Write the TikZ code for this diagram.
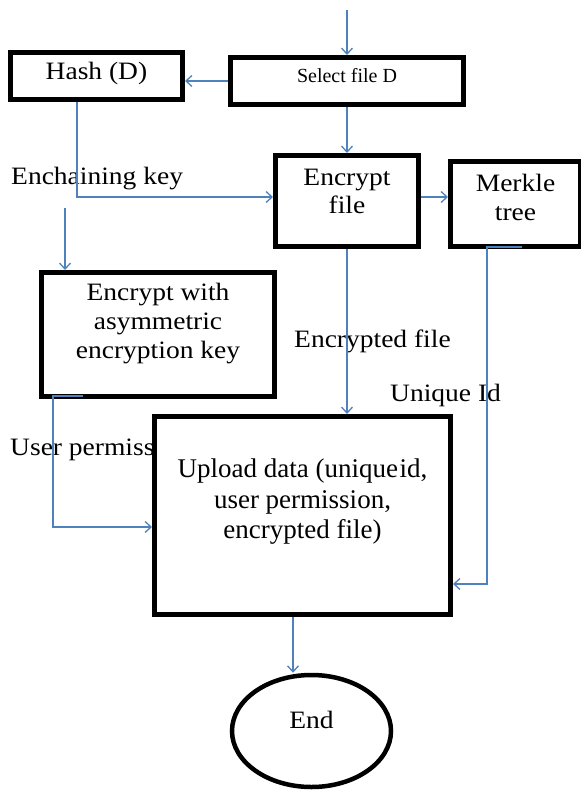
\documentclass[tikz,border=0pt]{standalone}
\usepackage{fontspec}
\setmainfont{Liberation Serif}[FakeStretch=1.1]
\newfontfamily\selfont{Liberation Serif}
\newfontfamily\upfont{Liberation Serif}
\usetikzlibrary{arrows.meta,shapes.geometric,calc}
\definecolor{lnblue}{RGB}{79,129,189}
\begin{document}
\begin{tikzpicture}[x=1pt,y=-1pt,
  box/.style={draw=black,line width=4.8pt,fill=white,rectangle,inner sep=0pt},
  txt/.style={inner sep=0pt,anchor=base,font=\fontsize{25}{29}\selectfont},
  txtl/.style={txt,anchor=base west},
  seltxt/.style={inner sep=0pt,anchor=base,font=\selfont\fontsize{20}{24}\selectfont},
  uptxt/.style={inner sep=0pt,anchor=base,font=\upfont\fontsize{27}{30}\selectfont},
  conn/.style={draw=lnblue,line width=1.5pt,-{Straight Barb[length=6pt,width=11pt,line width=1.3pt]}},
  seg/.style={draw=lnblue,line width=1.5pt}]
\useasboundingbox (0,0) rectangle (580,791);

% free labels (behind boxes and lines)
\node[txtl] (lkey) at (11,185) {Enchaining key};
\node[txtl] (lperm) at (10,455) {User permiss};
\node[txtl] (lencf) at (294,347) {Encrypted file};
\node[txtl] (luid) at (390,401) {Unique Id};

% boxes
\node[box,minimum width=172.2pt,minimum height=47.2pt] (hash) at (96.5,76) {};
\node[box,minimum width=233.2pt,minimum height=47.2pt] (sel) at (347,81) {};
\node[box,minimum width=143.2pt,minimum height=91.2pt] (enc) at (347,201) {};
\node[box,minimum width=130.2pt,minimum height=85.2pt] (mer) at (515.5,204) {};
\node[box,minimum width=233.2pt,minimum height=124.2pt] (asym) at (158,334.5) {};
\node[box,minimum width=296.2pt,minimum height=198.2pt] (up) at (302.5,515.5) {};
\node[draw=black,line width=4.5pt,fill=white,ellipse,inner sep=0pt,
      minimum width=159pt,minimum height=112pt] (endn) at (311.5,731) {};

% box texts
\node[txt] (thash) at (96.5,80) {Hash (D)};
\node[seltxt] (tsel) at (347,83) {Select file D};
\node[txt] (tenc1) at (347,186) {Encrypt};
\node[txt] (tenc2) at (347,214) {file};
\node[txt] (tmer1) at (515.5,192) {Merkle};
\node[txt] (tmer2) at (515.5,221) {tree};
\node[txt] (tas1) at (158,300) {Encrypt with};
\node[txt] (tas2) at (158,329) {asymmetric};
\node[txt] (tas3) at (158,358) {encryption key};
\node[uptxt] (tup1) at (302.5,477) {Upload data (unique\hspace{1.5pt}id,};
\node[uptxt] (tup2) at (302.5,508) {user permission,};
\node[uptxt] (tup3) at (302.5,538) {encrypted file)};
\node[txt] (tend) at (311.5,728) {End};

% coordinates for free ends / bends
\coordinate (top) at (347,10);
\coordinate (hx) at (77,0);
\coordinate (kstart) at (65,208);
\coordinate (m1) at (522,247);
\coordinate (mk) at (487,584);
\coordinate (a1) at (83,396);
\coordinate (ak) at (53,527);
\coordinate (ex) at (293,0);

% connectors
\draw[conn] (top) -- (sel.north);
\draw[conn] (sel.west) -- (sel.west -| hash.east);
\draw[conn] (sel.south) -- (enc.north);
\draw[conn] (hx |- hash.south) |- ([yshift=4pt]enc.west);
\draw[conn] ([yshift=4pt]enc.east) -- ([yshift=4pt]enc.east -| mer.west);
\draw[conn] (kstart) -- (kstart |- asym.north);
\draw[conn] (enc.south) -- (enc.south |- up.north);
\draw[conn] (m1) -| (mk) -- (mk -| up.east);
\draw[conn] (a1) -| (ak) -- (ak -| up.west);
\draw[conn] (ex |- up.south) -- (ex |- endn.north);
\end{tikzpicture}
\end{document}
